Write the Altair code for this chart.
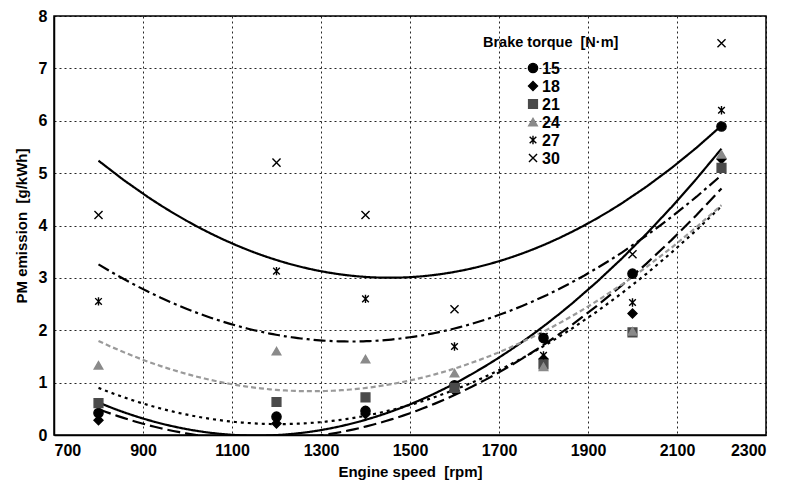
import altair as alt
import pandas as pd

speeds = [800, 1200, 1400, 1600, 1800, 2000, 2200]
torques = ["15", "18", "21", "24", "27", "30"]
pm_15 = [0.42, 0.35, 0.46, 0.95, 1.85, 3.08, 5.89]
pm_18 = [0.28, 0.22, 0.40, 0.85, 1.45, 2.32, 5.27]
pm_21 = [0.61, 0.63, 0.72, 0.90, 1.35, 1.96, 5.10]
pm_24 = [1.33, 1.60, 1.45, 1.18, 1.30, 1.98, 5.36]
pm_27 = [2.55, 3.13, 2.60, 1.69, 1.52, 2.53, 6.20]
pm_30 = [4.20, 5.20, 4.20, 2.40, 1.87, 3.45, 7.48]
x_ticks = [700, 900, 1100, 1300, 1500, 1700, 1900, 2100, 2300]
y_ticks = [0, 1, 2, 3, 4, 5, 6, 7, 8]

series = [pm_15, pm_18, pm_21, pm_24, pm_27, pm_30]
rows = []
for t, vals in zip(torques, series):
    for s, v in zip(speeds, vals):
        rows.append({"speed": s, "pm": v, "torque": t})
df = pd.DataFrame(rows)
leg_df = pd.DataFrame({"torque": torques})

FONT = "Liberation Sans"
NB = "\u00a0"

x_enc = alt.X("speed:Q", scale=alt.Scale(domain=[700, 2300], nice=False),
              axis=alt.Axis(values=x_ticks, title="Engine speed" + NB + NB + "[rpm]", format="d"))
y_enc = alt.Y("pm:Q", scale=alt.Scale(domain=[0, 8], nice=False),
              axis=alt.Axis(values=y_ticks, title="PM emission" + NB + NB + "[g/kWh]"))

base = alt.Chart(df)

lines = base.transform_regression(
    "speed", "pm", method="poly", order=2, groupby=["torque"]
).mark_line(clip=True).encode(
    x=x_enc, y=y_enc,
    color=alt.Color("torque:N", legend=None,
                    scale=alt.Scale(domain=torques,
                                    range=["black", "black", "black", "#9a9a9a", "black", "black"])),
    strokeDash=alt.StrokeDash("torque:N", legend=None,
                              scale=alt.Scale(domain=torques,
                                              range=[[1, 0], [13, 5], [3, 4], [5, 3], [12, 4, 3, 4], [1, 0]])),
    strokeWidth=alt.StrokeWidth("torque:N", legend=None,
                                scale=alt.Scale(domain=torques, range=[2.2, 2.2, 2.0, 1.1, 2.2, 1.8])),
    detail="torque:N",
)

asterisk = "M-0.8,-0.8L0.8,0.8M-0.8,0.8L0.8,-0.8M0,-1L0,1"
xcross = "M-1,-1L1,1M-1,1L1,-1"

shape_enc = alt.Shape("torque:N", legend=None,
                      scale=alt.Scale(domain=torques,
                                      range=["circle", "diamond", "square", "triangle-up", asterisk, xcross]))
fill_enc = alt.Fill("torque:N", legend=None,
                    scale=alt.Scale(domain=torques,
                                    range=["black", "black", "#4a4a4a", "#8a8a8a", "transparent", "transparent"]))
stroke_enc = alt.Stroke("torque:N", legend=None,
                        scale=alt.Scale(domain=torques,
                                        range=["black", "black", "#4a4a4a", "#8a8a8a", "black", "black"]))
size_enc = alt.Size("torque:N", legend=None,
                    scale=alt.Scale(domain=torques, range=[85, 65, 60, 40, 90, 80]))

points = base.mark_point(filled=False, opacity=1, strokeWidth=1.4).encode(
    x=x_enc, y=y_enc, shape=shape_enc, fill=fill_enc, stroke=stroke_enc, size=size_enc,
)

# legend (drawn as marks, rows placed by a point scale)
leg_y = alt.Y("torque:N", scale=alt.Scale(type="point", domain=torques, range=[52, 142], padding=0),
              axis=None)
leg_sym = alt.Chart(leg_df).mark_point(filled=False, opacity=1, strokeWidth=1.4).encode(
    x=alt.value(479), y=leg_y, shape=shape_enc, fill=fill_enc, stroke=stroke_enc, size=size_enc,
)
leg_txt = alt.Chart(leg_df).mark_text(
    align="left", baseline="middle", font=FONT, fontSize=16, fontWeight="bold", color="black", dy=1
).encode(x=alt.value(488), y=leg_y, text="torque:N")

title_txt = alt.Chart(pd.DataFrame({"t": ["Brake torque" + NB + NB + "[N\u00b7m]"]})).mark_text(
    align="left", baseline="middle", font=FONT, fontSize=14.5, fontWeight="bold", color="black"
).encode(x=alt.value(429), y=alt.value(27), text="t:N")

main = alt.layer(lines, points).resolve_scale(color="independent", strokeWidth="independent")
legend_layer = alt.layer(leg_sym, leg_txt, title_txt)

chart = alt.layer(main, legend_layer).resolve_scale(
    y="independent"
).properties(
    width=712, height=419,
    autosize=alt.AutoSizeParams(type="none"),
    padding={"left": 46, "top": 8, "right": 21, "bottom": 53},
).configure_view(
    stroke="black", strokeWidth=1.5
).configure_axis(
    labelFont=FONT, labelFontSize=16, labelFontWeight="bold", labelColor="black",
    titleFont=FONT, titleFontSize=15, titleFontWeight="bold", titleColor="black",
    grid=True, gridColor="black", gridDash=[2, 3], gridWidth=1, gridOpacity=0.85,
    ticks=False, domainColor="black", domainWidth=1.5, labelPadding=7,
).configure_axisX(titlePadding=6).configure_axisY(titlePadding=9)

chart.save("out.html", embed_options={"renderer": "svg", "actions": False})
